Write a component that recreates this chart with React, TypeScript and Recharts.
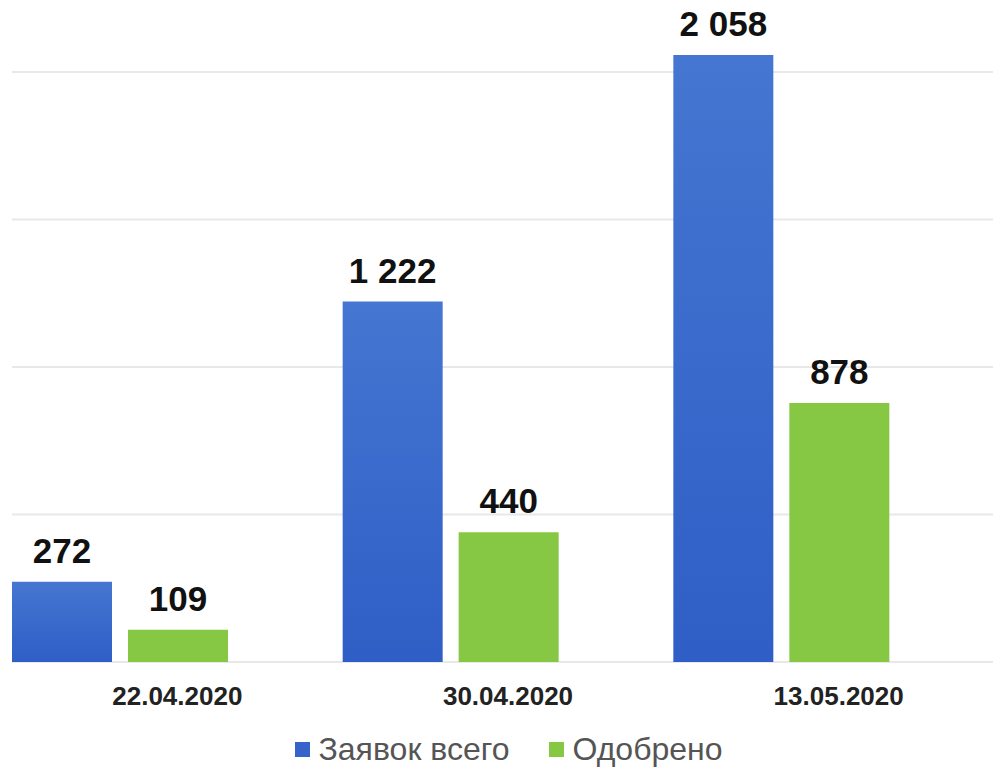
import { BarChart, Bar, XAxis, YAxis, CartesianGrid, Legend, LabelList } from 'recharts';

const dates = ['22.04.2020', '30.04.2020', '13.05.2020'];
const total = [272, 1222, 2058];
const approved = [109, 440, 878];
const yTicks = [0, 500, 1000, 1500, 2000];
const Y_MAX = 2200;

const data = dates.map((date, i) => ({ date, total: total[i], approved: approved[i] }));

const FONT = '"Liberation Sans", Arial, Helvetica, sans-serif';

// пробел как разделитель тысяч: 1 222
const fmt = (v: number) => String(v).replace(/\B(?=(\d{3})+(?!\d))/g, ' ');

const DateTick = ({ x, y, payload }: any) => (
  <text x={x} y={y} dy={43} textAnchor="middle" fontFamily={FONT} fontWeight="bold" fontSize={26} fill="#222">
    {payload.value}
  </text>
);

const renderLegend = () => (
  <div style={{ width: 993, paddingLeft: 25, boxSizing: 'border-box', display: 'flex', justifyContent: 'center', gap: 40, fontFamily: FONT, fontSize: 32, color: '#555' }}>
    <span style={{ display: 'flex', alignItems: 'center', gap: 8 }}>
      <span style={{ width: 15, height: 15, background: '#3563c9', display: 'inline-block' }} />
      Заявок всего
    </span>
    <span style={{ display: 'flex', alignItems: 'center', gap: 8 }}>
      <span style={{ width: 15, height: 15, background: '#86c843', display: 'inline-block' }} />
      Одобрено
    </span>
  </div>
);

// линии сетки только на делениях оси Y (без линии по верхнему краю)
const gridLines = ({ yAxis, offset }: any) =>
  yTicks.map((t) => {
    const s = yAxis?.scale;
    if (typeof s === 'function') return s(t);
    if (s && typeof s.map === 'function') return s.map(t);
    return offset.top + offset.height * (1 - t / Y_MAX);
  });

export default function App() {
  return (
    <div style={{ position: 'absolute', left: 0, top: 0, width: 993, height: 772, overflow: 'hidden', background: '#fff' }}>
      <BarChart
        width={1004}
        height={772}
        data={data}
        margin={{ top: 13, right: 0, left: 12, bottom: 50 }}
        barCategoryGap={0}
        barGap={16}
      >
        <defs>
          <linearGradient id="blueFill" x1="0" y1="0" x2="0" y2="1">
            <stop offset="0%" stopColor="#4576d1" />
            <stop offset="100%" stopColor="#2f5ec6" />
          </linearGradient>
        </defs>
        <CartesianGrid vertical={false} stroke="#e8e8e8" strokeWidth={2} horizontalCoordinatesGenerator={gridLines} />
        <XAxis dataKey="date" axisLine={false} tickLine={false} tickSize={0} tickMargin={0} height={60} tick={<DateTick />} />
        <YAxis hide domain={[0, Y_MAX]} ticks={yTicks} />
        <Legend verticalAlign="middle" wrapperStyle={{ top: 731, left: 0, width: 993 }} content={renderLegend} />
        <Bar dataKey="total" name="Заявок всего" fill="url(#blueFill)" isAnimationActive={false}>
          <LabelList dataKey="total" position="top" offset={19} formatter={fmt} fill="#111" fontFamily={FONT} fontWeight="bold" fontSize={35} />
        </Bar>
        <Bar dataKey="approved" name="Одобрено" fill="#86c843" isAnimationActive={false}>
          <LabelList dataKey="approved" position="top" offset={19} formatter={fmt} fill="#111" fontFamily={FONT} fontWeight="bold" fontSize={35} />
        </Bar>
        {/* пустая серия: оставляет место справа от пары столбцов */}
        <Bar dataKey="pad" legendType="none" fill="none" isAnimationActive={false} />
      </BarChart>
    </div>
  );
}
